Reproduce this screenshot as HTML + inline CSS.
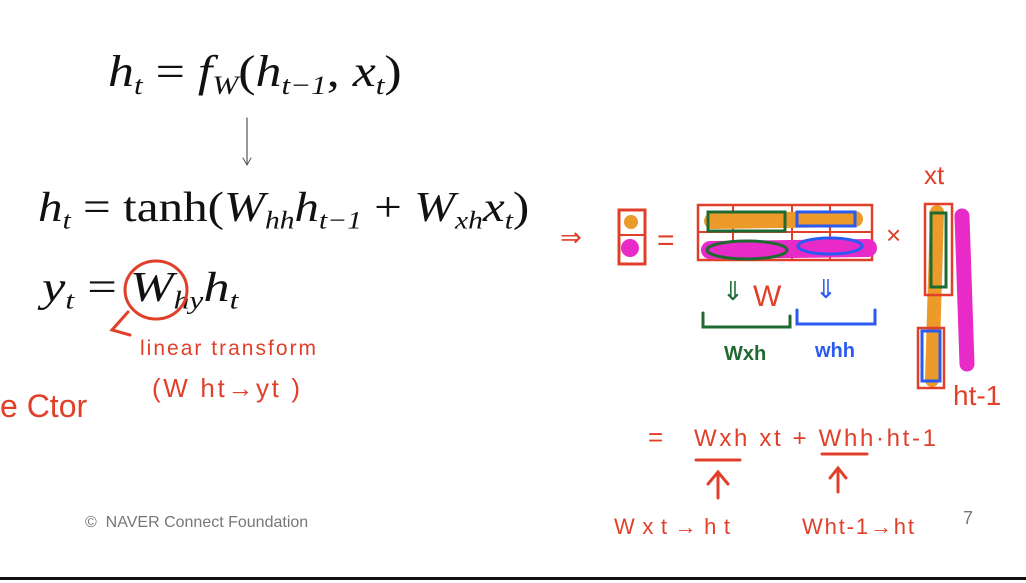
<!DOCTYPE html>
<html><head><meta charset="utf-8"><style>
body{margin:0;width:1026px;height:583px;background:#fff;overflow:hidden;position:relative;font-family:"Liberation Serif",serif}
.m{position:absolute;font-family:"Liberation Serif",serif;color:#111;white-space:nowrap;transform-origin:0 0}
i{font-style:italic}
sub{font-size:60%;vertical-align:-0.3em}
.hw{font-family:"Liberation Sans",sans-serif;fill:#e0402a}
</style></head><body>
<div class="m" style="left:108px;top:46px;font-size:44px;transform:scaleX(1.18)"><i>h<sub>t</sub></i> = <i>f<sub>W</sub></i>(<i>h<sub>t−1</sub></i>, <i>x<sub>t</sub></i>)</div>
<div class="m" style="left:38px;top:184px;font-size:42px;transform:scaleX(1.17)"><i>h<sub>t</sub></i> = tanh(<i>W<sub>hh</sub>h<sub>t−1</sub></i> + <i>W<sub>xh</sub>x<sub>t</sub></i>)</div>
<div class="m" style="left:42px;top:264px;font-size:42px;transform:scaleX(1.25)"><i>y<sub>t</sub></i> = <i>W<sub>hy</sub>h<sub>t</sub></i></div>
<div style="position:absolute;left:85px;top:514px;font:16px 'Liberation Sans',sans-serif;color:#777">©&nbsp; NAVER Connect Foundation</div>
<div style="position:absolute;left:963px;top:508px;font:18px 'Liberation Sans',sans-serif;color:#777">7</div>
<div style="position:absolute;left:0;top:577px;width:1026px;height:3px;background:#111"></div>
<svg width="1026" height="583" style="position:absolute;left:0;top:0" fill="none" stroke-linecap="round">
<line x1="247" y1="118" x2="247" y2="164" stroke="#555" stroke-width="1.2"/>
<path d="M243 158 L247 165 L251 158" stroke="#555" stroke-width="1"/>
<ellipse cx="156" cy="290" rx="31" ry="29" stroke="#e0402a" stroke-width="3"/>
<path d="M128 312 L112 330 L130 335" stroke="#e0402a" stroke-width="3"/>
<text x="140" y="355" class="hw" font-size="21" stroke="none" textLength="176">linear transform</text>
<text x="152" y="397" class="hw" font-size="26" stroke="none" textLength="148">(W ht→yt )</text>
<text x="0" y="417" class="hw" font-size="32" stroke="none">e Ctor</text>
<text x="560" y="246" class="hw" font-size="26" stroke="none">⇒</text>
<rect x="619" y="210" width="26" height="54" stroke="#e0402a" stroke-width="3"/>
<line x1="619" y1="235" x2="645" y2="235" stroke="#e0402a" stroke-width="2"/>
<circle cx="631" cy="222" r="7" fill="#ec9a2a"/>
<circle cx="630" cy="248" r="9" fill="#e82ac8"/>
<text x="657" y="250" class="hw" font-size="30" stroke="none">=</text>
<rect x="698" y="205" width="174" height="55" stroke="#e0402a" stroke-width="2.5"/>
<line x1="698" y1="232" x2="872" y2="232" stroke="#e0402a" stroke-width="2"/>
<line x1="733" y1="205" x2="733" y2="260" stroke="#e0402a" stroke-width="2"/>
<line x1="792" y1="205" x2="792" y2="260" stroke="#e0402a" stroke-width="2"/>
<line x1="830" y1="205" x2="830" y2="260" stroke="#e0402a" stroke-width="2"/>
<line x1="712" y1="221" x2="855" y2="219" stroke="#ec9a2a" stroke-width="16"/>
<rect x="708" y="212" width="77" height="19" stroke="#1f6a30" stroke-width="3"/>
<rect x="797" y="212" width="58" height="14" stroke="#2a5af0" stroke-width="3"/>
<line x1="710" y1="250" x2="868" y2="248" stroke="#e82ac8" stroke-width="18"/>
<ellipse cx="747" cy="250" rx="40" ry="9" stroke="#1f6a30" stroke-width="3"/>
<ellipse cx="830" cy="246" rx="32" ry="8" stroke="#2a5af0" stroke-width="3"/>
<text x="722" y="300" fill="#1f6a30" font-size="26" font-family="Liberation Sans">⇓</text>
<text x="753" y="306" class="hw" font-size="30" stroke="none">W</text>
<text x="815" y="298" fill="#2a5af0" font-size="26" font-family="Liberation Sans">⇓</text>
<path d="M703 313 V327 H790 V316" stroke="#1f6a30" stroke-width="3"/>
<path d="M797 310 V324 H875 V310" stroke="#2a5af0" stroke-width="3"/>
<text x="724" y="360" fill="#1f6a30" font-size="20" font-weight="bold" font-family="Liberation Sans">Wxh</text>
<text x="815" y="357" fill="#2a5af0" font-size="20" font-weight="bold" font-family="Liberation Sans">whh</text>
<text x="886" y="244" class="hw" font-size="26" stroke="none">×</text>
<text x="924" y="184" class="hw" font-size="26" stroke="none">xt</text>
<line x1="937" y1="212" x2="932" y2="380" stroke="#ec9a2a" stroke-width="14"/>
<rect x="925" y="204" width="27" height="91" stroke="#e0402a" stroke-width="2.5"/>
<rect x="931" y="213" width="15" height="74" stroke="#1f6a30" stroke-width="3"/>
<rect x="918" y="328" width="26" height="60" stroke="#e0402a" stroke-width="2.5"/>
<rect x="922" y="331" width="18" height="50" stroke="#2a5af0" stroke-width="3"/>
<line x1="962" y1="216" x2="967" y2="364" stroke="#e82ac8" stroke-width="15"/>
<text x="953" y="405" class="hw" font-size="28" stroke="none">ht-1</text>
<text x="648" y="446" class="hw" font-size="26" stroke="none">=</text>
<text x="694" y="446" class="hw" font-size="24" stroke="none" textLength="242">Wxh xt + Whh·ht-1</text>
<line x1="696" y1="460" x2="740" y2="460" stroke="#e0402a" stroke-width="3"/>
<line x1="822" y1="454" x2="867" y2="454" stroke="#e0402a" stroke-width="3"/>
<path d="M718 498 V474 M708 484 L718 472 L728 484" stroke="#e0402a" stroke-width="3"/>
<path d="M838 492 V470 M830 478 L838 468 L846 478" stroke="#e0402a" stroke-width="3"/>
<text x="614" y="534" class="hw" font-size="22" stroke="none" textLength="116">Wxt→ht</text>
<text x="802" y="534" class="hw" font-size="22" stroke="none" textLength="112">Wht-1→ht</text>
</svg>
</body></html>
